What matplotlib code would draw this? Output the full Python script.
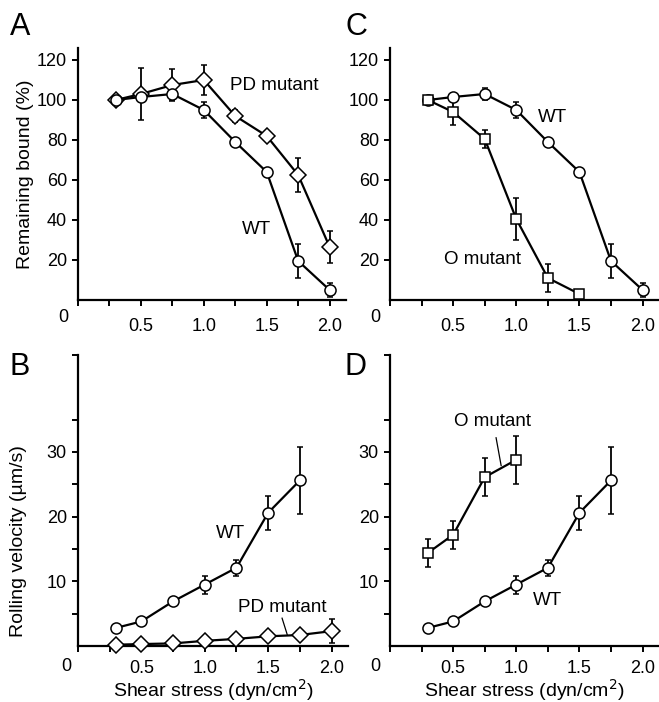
import matplotlib
matplotlib.use("Agg")
import matplotlib.pyplot as plt

plt.rcParams["font.family"] = ["Liberation Sans", "DejaVu Sans"]

# shear stress (dyn/cm2)
shear = [0.3, 0.5, 0.75, 1.0, 1.25, 1.5, 1.75, 2.0]
shear_o = [0.3, 0.5, 0.75, 1.0, 1.25, 1.5]
shear_wt_vel = [0.3, 0.5, 0.75, 1.0, 1.25, 1.5, 1.75]
shear_o_vel = [0.3, 0.5, 0.75, 1.0]

# remaining bound (%)
wt_bound = [100, 101.5, 103, 95, 79, 64, 19.5, 5]
wt_bound_err = [1, 2, 3, 4, 1.5, 1.5, 8.5, 3.5]
pd_bound = [100, 103, 107.5, 110, 92, 82, 62.5, 26.5]
pd_bound_err = [1, 13, 8, 7.5, 3, 1, 8.5, 8]
o_bound = [100, 94, 80.5, 40.5, 11, 3]
o_bound_err = [1, 6.5, 4.5, 10.5, 7, 2]

# rolling velocity (um/s)
wt_vel = [2.8, 3.8, 6.9, 9.5, 12.1, 20.6, 25.6]
wt_vel_err = [0.3, 0.4, 0.4, 1.4, 1.2, 2.6, 5.2]
pd_vel = [0.2, 0.3, 0.4, 0.8, 1.1, 1.5, 1.7, 2.3]
pd_vel_err = [0.1, 0.1, 0.1, 0.2, 0.2, 0.3, 0.3, 1.9]
o_vel = [14.4, 17.2, 26.1, 28.8]
o_vel_err = [2.2, 2.2, 2.9, 3.7]

W, H = 659, 702
fig = plt.figure(figsize=(W / 100, H / 100), dpi=100)


def px_axes(left, right, top, bottom):
    return fig.add_axes([left / W, 1 - bottom / H, (right - left) / W, (bottom - top) / H])


def style(ax, ylim, yticks, ylabels, xpad=9):
    for s in ("top", "right"):
        ax.spines[s].set_visible(False)
    for s in ("left", "bottom"):
        ax.spines[s].set_linewidth(1.6)
    ax.set_xlim(0, 2.13)
    ax.set_ylim(*ylim)
    ax.set_xticks([0, 0.25, 0.5, 0.75, 1.0, 1.25, 1.5, 1.75, 2.0])
    ax.set_xticklabels(["", "", "0.5", "", "1.0", "", "1.5", "", "2.0"])
    ax.set_yticks(yticks)
    ax.set_yticklabels(ylabels)
    ax.tick_params(axis="x", direction="out", length=4, width=1.4, pad=xpad, labelsize=13)
    ax.tick_params(axis="y", direction="out", length=4, width=1.4, pad=4, labelsize=13)


def series(ax, x, y, err, marker, ms):
    ax.errorbar(x, y, yerr=err, color="black", lw=1.6, elinewidth=1.3, capsize=2,
                capthick=1.3, marker=marker, ms=ms, mfc="white", mec="black",
                mew=1.1, zorder=3, clip_on=False)


bound_ticks = [20, 40, 60, 80, 100, 120]
bound_labels = ["20", "40", "60", "80", "100", "120"]
vel_ticks = [5, 10, 15, 20, 25, 30, 35, 45]
vel_labels = ["", "10", "", "20", "", "30", "", ""]

axA = px_axes(78, 346, 48, 300)
axC = px_axes(390, 659, 48, 300)
axB = px_axes(78, 348, 355, 646)
axD = px_axes(390, 659, 355, 646)

# A
style(axA, (0, 126), bound_ticks, bound_labels)
series(axA, shear, pd_bound, pd_bound_err, "D", 8)
series(axA, shear, wt_bound, wt_bound_err, "o", 8)
axA.text(1.56, 107.5, "PD mutant", ha="center", va="center", fontsize=13.5)
axA.text(1.42, 35, "WT", ha="center", va="center", fontsize=13.5)
axA.set_ylabel("Remaining bound (%)", fontsize=14, labelpad=2)
axA.text(-0.12, -8.5, "0", ha="center", va="center", fontsize=13, clip_on=False)

# C
style(axC, (0, 126), bound_ticks, bound_labels)
series(axC, shear, wt_bound, wt_bound_err, "o", 8)
series(axC, shear_o, o_bound, o_bound_err, "s", 7)
axC.text(1.29, 91.5, "WT", ha="center", va="center", fontsize=13.5)
axC.text(0.73, 20, "O mutant", ha="center", va="center", fontsize=13.5)
axC.text(-0.12, -8.5, "0", ha="center", va="center", fontsize=13, clip_on=False)

# B
style(axB, (0, 45), vel_ticks, vel_labels, xpad=6)
series(axB, shear, pd_vel, pd_vel_err, "D", 8)
series(axB, shear_wt_vel, wt_vel, wt_vel_err, "o", 8)
axB.text(1.61, 6.0, "PD mutant", ha="center", va="center", fontsize=13.5)
axB.plot([1.61, 1.65], [4.3, 1.8], color="black", lw=0.9)
axB.text(1.20, 17.4, "WT", ha="center", va="center", fontsize=13.5)
axB.set_ylabel("Rolling velocity (\u00b5m/s)", fontsize=14)
axB.yaxis.set_label_coords(-0.19, 0.36)
axB.set_xlabel("Shear stress (dyn/cm$^2$)", fontsize=14, labelpad=0)
axB.text(-0.095, -3.2, "0", ha="center", va="center", fontsize=13, clip_on=False)

# D
style(axD, (0, 45), vel_ticks, vel_labels, xpad=6)
series(axD, shear_o_vel, o_vel, o_vel_err, "s", 7)
series(axD, shear_wt_vel, wt_vel, wt_vel_err, "o", 8)
axD.text(0.81, 34.7, "O mutant", ha="center", va="center", fontsize=13.5)
axD.plot([0.84, 0.88], [32.2, 27.9], color="black", lw=0.9)
axD.text(1.25, 7.1, "WT", ha="center", va="center", fontsize=13.5)
axD.set_xlabel("Shear stress (dyn/cm$^2$)", fontsize=14, labelpad=0)
axD.text(-0.12, -3.2, "0", ha="center", va="center", fontsize=13, clip_on=False)

# panel letters
for letter, x, y in [("A", 20, 27), ("C", 356, 27), ("B", 20, 367), ("D", 356, 367)]:
    fig.text(x / W, 1 - y / H, letter, fontsize=22, ha="center", va="center")

fig.savefig("out.png", dpi=100)
